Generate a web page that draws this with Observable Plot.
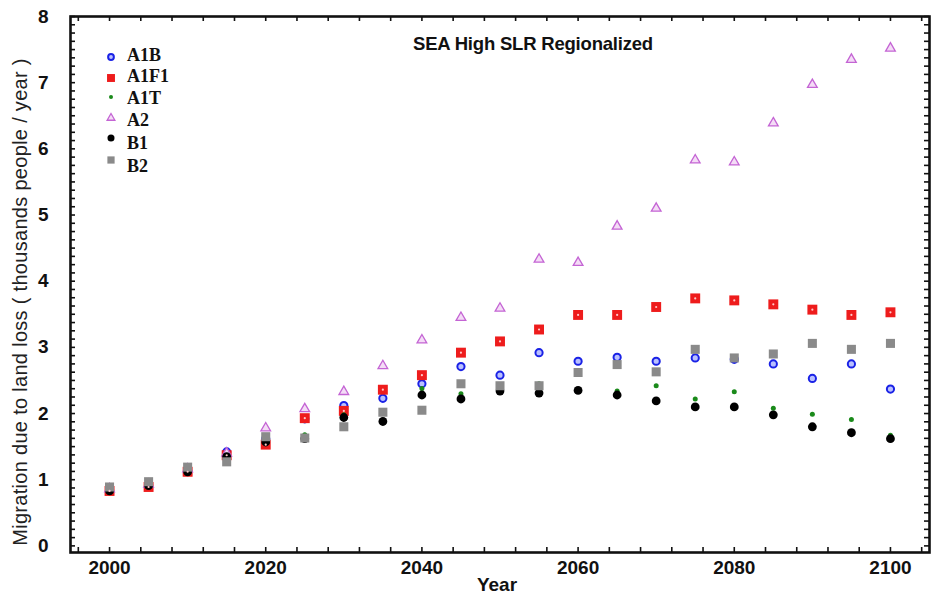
<!DOCTYPE html>
<html><head><meta charset="utf-8">
<script src="https://cdn.jsdelivr.net/npm/d3@7"></script>
<script src="https://cdn.jsdelivr.net/npm/@observablehq/plot@0.6"></script>
<style>
html,body{margin:0;padding:0;background:#fff;}
#wrap{position:relative;width:932px;height:596px;overflow:hidden;}
#overlay{position:absolute;left:0;top:0;pointer-events:none;}
</style></head><body><div id="wrap"></div>
<script>
const years = [2000,2005,2010,2015,2020,2025,2030,2035,2040,2045,2050,2055,2060,2065,2070,2075,2080,2085,2090,2095,2100];
const seriesNames = ["A1B","A1F1","A1T","A2","B1","B2"];
const A1B  = [0.85,0.92,1.13,1.42,1.62,1.92,2.12,2.23,2.45,2.71,2.58,2.92,2.79,2.85,2.79,2.84,2.82,2.75,2.53,2.75,2.37];
const A1F1 = [0.83,0.89,1.12,1.37,1.53,1.93,2.04,2.36,2.58,2.92,3.09,3.27,3.49,3.49,3.61,3.74,3.71,3.65,3.57,3.49,3.53];
const A1T  = [0.84,0.92,1.14,1.38,1.60,1.68,1.98,2.00,2.38,2.30,2.38,2.45,2.35,2.34,2.42,2.22,2.33,2.08,1.99,1.91,1.67];
const A2   = [0.86,0.93,1.16,1.40,1.78,2.07,2.33,2.72,3.11,3.45,3.59,4.33,4.28,4.83,5.10,5.83,5.80,6.39,6.97,7.35,7.52];
const B1   = [0.83,0.91,1.12,1.35,1.57,1.62,1.94,1.88,2.28,2.22,2.34,2.31,2.35,2.28,2.19,2.10,2.10,1.98,1.80,1.71,1.62];
const B2   = [0.89,0.97,1.19,1.27,1.65,1.63,1.80,2.02,2.05,2.45,2.42,2.42,2.62,2.74,2.63,2.97,2.84,2.90,3.06,2.97,3.06];
const xTickLabels = [2000,2020,2040,2060,2080,2100];
const yTickLabels = [0,1,2,3,4,5,6,7,8];
const titleText = "SEA High SLR Regionalized";
const xLabel = "Year";
const yLabel = "Migration due to land loss ( thousands people / year )";

const seriesValues = [A1B, A1F1, A1T, A2, B1, B2];
const rows = seriesNames.flatMap((s, i) => seriesValues[i].map((v, j) => ({series: s, year: years[j], value: v})));

const styles = {
  A1B:  {symbol: "circle",   r: 3.6, fill: "#b9c0ff", stroke: "#1a22e6", strokeWidth: 2},
  A1F1: {symbol: "square",   r: 5.6, fill: "#ee1c1c", stroke: "none"},
  A1T:  {symbol: "circle",   r: 2.5, fill: "#1a8a1a", stroke: "none"},
  A2:   {symbol: "triangle", r: 3.6, fill: "#f4dcf6", stroke: "#c464d4", strokeWidth: 1.3},
  B1:   {symbol: "circle",   r: 4.4, fill: "#000000", stroke: "none"},
  B2:   {symbol: "square",   r: 5.1, fill: "#8a8a8a", stroke: "none"}
};

const W = 932, H = 596, mL = 70, mR = 3, mT = 16, mB = 44;
const plotW = W - mL - mR, plotH = H - mT - mB;
const xMinor = d3.range(1996, 2105, 4);
const yMinor = d3.range(0, 8.0001, 0.125);

const dotMarks = seriesNames.map(s => Plot.dot(rows.filter(d => d.series === s), {
  x: "year", y: "value", ...styles[s]
}));

const chart = Plot.plot({
  width: W, height: H,
  marginLeft: mL, marginRight: mR, marginTop: mT, marginBottom: mB,
  style: {fontFamily: "'Liberation Sans', Arial, sans-serif", fontSize: "19px", fontWeight: "bold", color: "#111", background: "#fff"},
  x: {domain: [1995, 2105]},
  y: {domain: [-0.1, 8]},
  marks: [
    Plot.tickX(xMinor, {x: d => d, insetTop: plotH - 5, stroke: "#111", strokeWidth: 1.6}),
    Plot.tickX(xMinor, {x: d => d, insetBottom: plotH - 5, stroke: "#111", strokeWidth: 1.6}),
    Plot.tickY(yMinor, {y: d => d, insetRight: plotW - 5, stroke: "#111", strokeWidth: 1.6}),
    Plot.tickY(yMinor, {y: d => d, insetLeft: plotW - 5, stroke: "#111", strokeWidth: 1.6}),
    Plot.axisX(xTickLabels, {tickSize: 0, tickPadding: 8, label: null, tickFormat: d => String(d)}),
    Plot.axisY(yTickLabels, {tickSize: 0, tickPadding: 22, label: null, tickFormat: d => String(d)}),
    ...dotMarks,
    Plot.dot(rows.filter(d => d.series === "A1F1"), {x: "year", y: "value", r: 1.1, fill: "#ffc8c8"}),
    Plot.frame({stroke: "#111", strokeWidth: 2.6})
  ]
});

const wrap = document.getElementById("wrap");
wrap.appendChild(chart);

// overlay texts and legend
const ov = d3.select(wrap).append("svg").attr("id", "overlay").attr("width", W).attr("height", H);
ov.append("text").attr("x", 533).attr("y", 43).attr("text-anchor", "middle").attr("dominant-baseline", "central")
  .attr("font-family", "'Liberation Sans', Arial, sans-serif").attr("font-weight", "bold").attr("font-size", 18.5)
  .attr("letter-spacing", "-0.2").attr("fill", "#111").text(titleText);
ov.append("text").attr("x", 497).attr("y", 584).attr("text-anchor", "middle").attr("dominant-baseline", "central")
  .attr("font-family", "'Liberation Sans', Arial, sans-serif").attr("font-weight", "bold").attr("font-size", 19)
  .attr("fill", "#111").text(xLabel);
ov.append("text").attr("transform", "translate(20,302) rotate(-90)").attr("text-anchor", "middle").attr("dominant-baseline", "central")
  .attr("font-family", "'Liberation Sans', Arial, sans-serif").attr("font-size", 20)
  .attr("letter-spacing", "0.3").attr("fill", "#222").text(yLabel);

const legSymY = [57, 78, 97, 118, 138, 160];
const legTxtY = [55, 76, 98, 120, 143, 166];
const legScale = 0.8;
seriesNames.forEach((s, i) => {
  const st = styles[s];
  const sym = {circle: d3.symbolCircle, square: d3.symbolSquare, triangle: d3.symbolTriangle}[st.symbol];
  const r = st.r * legScale;
  ov.append("path").attr("transform", `translate(111,${legSymY[i]})`)
    .attr("d", d3.symbol(sym, Math.PI * r * r)())
    .attr("fill", st.fill).attr("stroke", st.stroke).attr("stroke-width", st.strokeWidth || 0);
  ov.append("text").attr("x", 127).attr("y", legTxtY[i]).attr("dominant-baseline", "central")
    .attr("font-family", "'Liberation Serif', 'Times New Roman', serif").attr("font-weight", "bold").attr("font-size", 18)
    .attr("fill", "#111").text(s);
});
</script></body></html>
